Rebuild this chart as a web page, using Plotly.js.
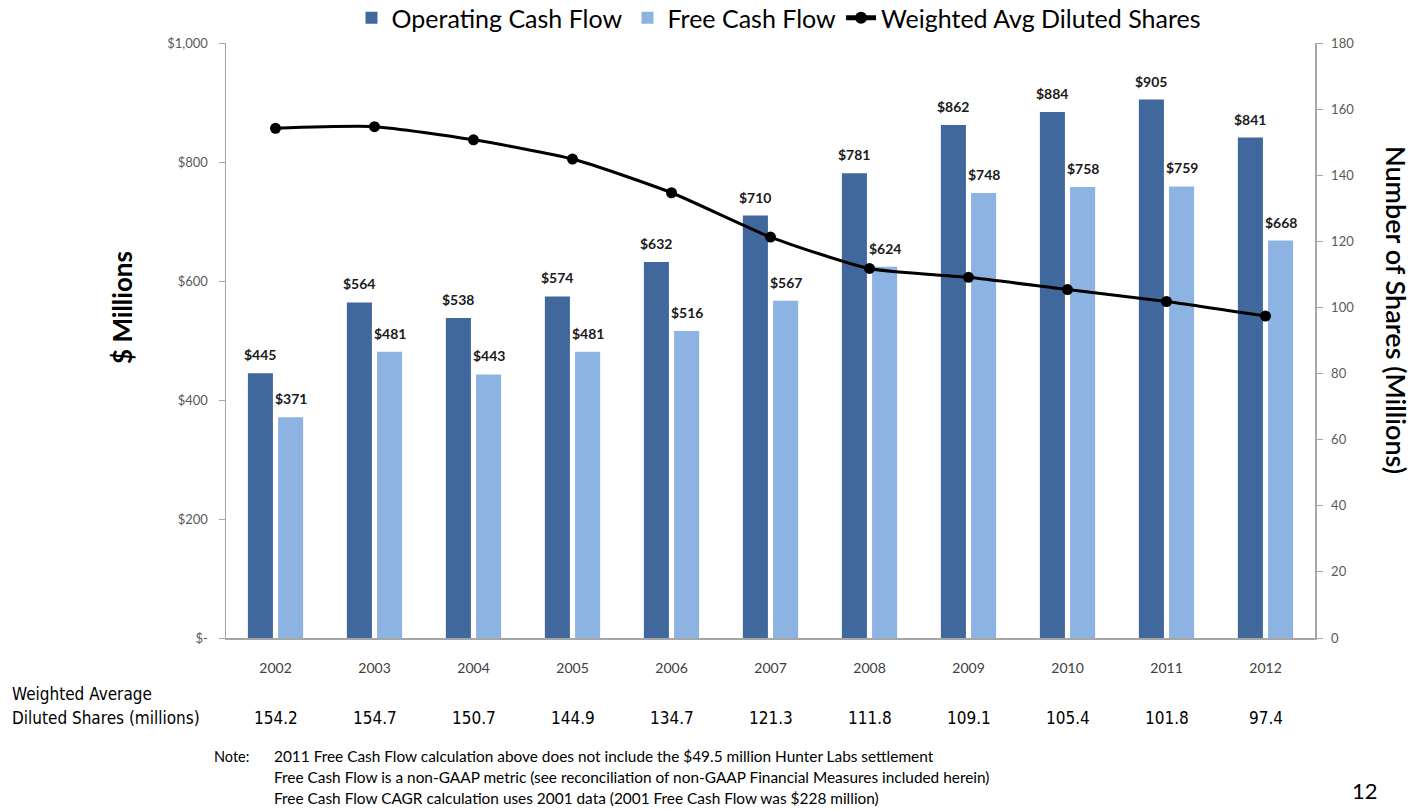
<!DOCTYPE html>
<html>
<head>
<meta charset="utf-8">
<script src="https://cdn.plot.ly/plotly-3.0.1.min.js"></script>
<style>html,body{margin:0;padding:0;background:#fff;}#chart{width:1427px;height:811px;}</style>
</head>
<body>
<div id="chart"></div>
<script>
var years = [2002, 2003, 2004, 2005, 2006, 2007, 2008, 2009, 2010, 2011, 2012];
var operatingCashFlow = [445, 564, 538, 574, 632, 710, 781, 862, 884, 905, 841];
var freeCashFlow = [371, 481, 443, 481, 516, 567, 624, 748, 758, 759, 668];
var dilutedShares = [154.2, 154.7, 150.7, 144.9, 134.7, 121.3, 111.8, 109.1, 105.4, 101.8, 97.4];
var leftTickVals = [0, 200, 400, 600, 800, 1000];
var leftTickText = ['$-', '$200', '$400', '$600', '$800', '$1,000'];
var rightTickVals = [0, 20, 40, 60, 80, 100, 120, 140, 160, 180];
var notes = [
  '2011 Free Cash Flow calculation above does not include the $49.5 million Hunter Labs settlement',
  'Free Cash Flow is a non-GAAP metric (see reconciliation of non-GAAP Financial Measures included herein)',
  'Free Cash Flow CAGR calculation uses 2001 data (2001 Free Cash Flow was $228 million)'
];

var W = 1427, H = 811;
var L = 226, R = 1315, T = 43, B = 638;
function px(x){ return (x - L) / (R - L); }
function py(y){ return (B - y) / (B - T); }

var mainFont = 'Lato, "Open Sans", sans-serif';
var narrowFont = '"Liberation Sans Narrow", "Arial Narrow", "DejaVu Sans Condensed", sans-serif';
var BARGAP = 0.39;
var catPx = (R - L) / years.length;
var slotPx = catPx * (1 - BARGAP) / 2;

var traces = [
  {
    type: 'bar', name: 'Operating Cash Flow', x: years, y: operatingCashFlow,
    marker: {color: '#41689c'}, hoverinfo: 'skip'
  },
  {
    type: 'bar', name: 'Free Cash Flow', x: years, y: freeCashFlow,
    marker: {color: '#8db3e2'}, hoverinfo: 'skip'
  },
  {
    type: 'scatter', mode: 'lines+markers', name: 'Weighted Avg Diluted Shares',
    x: years, y: dilutedShares, yaxis: 'y2',
    line: {color: '#000', width: 3, shape: 'spline', smoothing: 0.6},
    marker: {color: '#000', size: 11, symbol: 'circle'},
    cliponaxis: false, hoverinfo: 'skip'
  }
];

var annotations = [];
var labelFont = {family: mainFont, size: 14, color: '#1a1a1a', weight: 'bold'};
years.forEach(function(yr, i){
  annotations.push({xref:'x', yref:'y', x: yr, y: operatingCashFlow[i], text: '$' + operatingCashFlow[i],
    showarrow: false, xshift: -slotPx/2, yshift: 8, yanchor: 'bottom', xanchor: 'center', font: labelFont});
  annotations.push({xref:'x', yref:'y', x: yr, y: freeCashFlow[i], text: '$' + freeCashFlow[i],
    showarrow: false, xshift: slotPx/2, yshift: 8, yanchor: 'bottom', xanchor: 'center', font: labelFont});
});
annotations.push({xref:'paper', yref:'paper', x: px(122), y: py(308), text: '$ Millions', showarrow: false,
  textangle: -90, font: {family: mainFont, size: 26, color: '#000', weight: 'bold'}, xanchor:'center', yanchor:'middle'});
annotations.push({xref:'paper', yref:'paper', x: px(1397), y: py(310), text: 'Number of Shares (Millions)', showarrow: false,
  textangle: 90, font: {family: mainFont, size: 27, color: '#000', weight: 600}, xanchor:'center', yanchor:'middle'});
annotations.push({xref:'paper', yref:'paper', x: px(10), y: py(694), text: 'Weighted Average', showarrow: false,
  font: {family: narrowFont, size: 17, color: '#000'}, xanchor:'left', yanchor:'middle'});
annotations.push({xref:'paper', yref:'paper', x: px(10), y: py(718), text: 'Diluted Shares (millions)', showarrow: false,
  font: {family: narrowFont, size: 17, color: '#000'}, xanchor:'left', yanchor:'middle'});
years.forEach(function(yr, i){
  annotations.push({xref:'x', yref:'paper', x: yr, y: py(718), text: dilutedShares[i].toFixed(1), showarrow: false,
    font: {family: narrowFont, size: 17, color: '#000'}, xanchor:'center', yanchor:'middle'});
});
annotations.push({xref:'paper', yref:'paper', x: px(212), y: py(756), text: 'Note:', showarrow: false,
  font: {family: mainFont, size: 14.5, color: '#000'}, xanchor:'left', yanchor:'middle'});
notes.forEach(function(t, i){
  annotations.push({xref:'paper', yref:'paper', x: px(272), y: py(756 + i*21), text: t, showarrow: false,
    font: {family: mainFont, size: 15.4, color: '#000'}, xanchor:'left', yanchor:'middle'});
});
annotations.push({xref:'paper', yref:'paper', x: px(1365), y: py(790), text: '12', showarrow: false,
  font: {family: mainFont, size: 22, color: '#000'}, xanchor:'center', yanchor:'middle'});

var layout = {
  width: W, height: H,
  margin: {l: L, r: W - R, t: T, b: H - B, pad: 0, autoexpand: false},
  paper_bgcolor: '#fff', plot_bgcolor: '#fff',
  barmode: 'group', bargap: BARGAP, bargroupgap: 0.17,
  showlegend: true,
  legend: {orientation: 'h', x: px(779), xanchor: 'center', y: py(18), yanchor: 'middle',
    font: {family: mainFont, size: 25, color: '#000'}, bgcolor: 'rgba(0,0,0,0)', itemsizing: 'constant',
    itemwidth: 30},
  xaxis: {type: 'linear', range: [2001.5, 2012.5], tickvals: years, tickformat: 'd', showgrid: false,
    showline: true, linecolor: '#a6a6a6', linewidth: 1.5,
    ticks: 'outside', ticklen: 17, tickcolor: 'rgba(0,0,0,0)',
    tickfont: {family: mainFont, size: 14, color: '#404040'}, zeroline: false, fixedrange: true},
  yaxis: {range: [0, 1000], tickvals: leftTickVals, ticktext: leftTickText, showgrid: false,
    showline: true, linecolor: '#a6a6a6', linewidth: 1.5, ticks: 'outside', ticklen: 6, tickcolor: '#a6a6a6',
    ticklabelstandoff: 8,
    tickfont: {family: mainFont, size: 13, color: '#595959'}, zeroline: false, fixedrange: true},
  yaxis2: {range: [0, 180], tickvals: rightTickVals, overlaying: 'y', side: 'right', showgrid: false,
    showline: true, linecolor: '#a6a6a6', linewidth: 1.5, ticks: 'outside', ticklen: 6, tickcolor: '#a6a6a6',
    ticklabelstandoff: 6,
    tickfont: {family: mainFont, size: 13, color: '#595959'}, zeroline: false, fixedrange: true},
  annotations: annotations
};

Plotly.newPlot('chart', traces, layout, {staticPlot: true, displayModeBar: false});
</script>
</body>
</html>
